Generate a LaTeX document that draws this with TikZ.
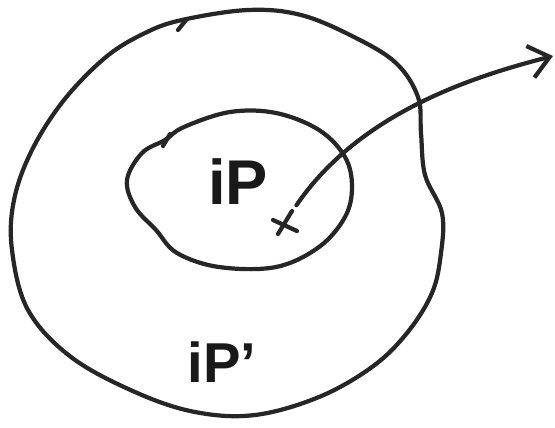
\documentclass[tikz,border=0pt]{standalone}
\usepackage{fontspec}
\setmainfont{Liberation Sans}
\usetikzlibrary{arrows.meta}

\begin{document}
\begin{tikzpicture}[x=0.02cm, y=-0.02cm,
    pen/.style={line width=2.4pt, black!85, line cap=round, line join=round},
    lab/.style={inner sep=0pt, black!90}]
    \useasboundingbox (0,0) rectangle (555,427);

    % Outer region
    \draw[pen] plot[smooth cycle, tension=0.6] coordinates {
        (182,20) (248,10) (301,15) (354,37) (396,63) (418,97)
        (421,133) (425,175) (442,213) (441,253) (432,293) (407,333)
        (372,367) (319,397) (255,415) (195,412) (135,392) (71,357)
        (28,310) (12,250) (14,200) (32,150) (64,100) (106,57) (145,33)};
    \draw[pen] (186,20) -- (178,30);

    % Inner region
    \draw[pen] plot[smooth cycle, tension=0.6] coordinates {
        (165,140) (184,127) (230,112) (276,113) (319,130) (345,157)
        (352,187) (345,217) (319,247) (276,267) (219,267) (177,253)
        (156,230) (135,207) (127,180) (142,153)};
    \draw[pen] (170,134) -- (163,146);

    % Labels
    \node[lab, font=\fontsize{36}{36}\selectfont\bfseries] (inner) at (238,182) {iP};
    \node[lab, font=\fontsize{32}{32}\selectfont\bfseries] (outer) at (222,362) {iP'};

    % Point and where it goes
    \node[circle, minimum size=0.8cm, inner sep=0pt] (mark) at (285,222) {};
    \draw[pen] ([shift={(-12,-2)}]mark.center) -- ([shift={(12,9)}]mark.center);
    \draw[pen] ([shift={(7,-11)}]mark.center) -- ([shift={(-7,12)}]mark.center);
    \coordinate (far) at (553,56);
    \draw[pen, -{Straight Barb[length=4mm, width=6.5mm]}] (mark) .. controls (360,112) and (475,76) .. (far);
\end{tikzpicture}
\end{document}
